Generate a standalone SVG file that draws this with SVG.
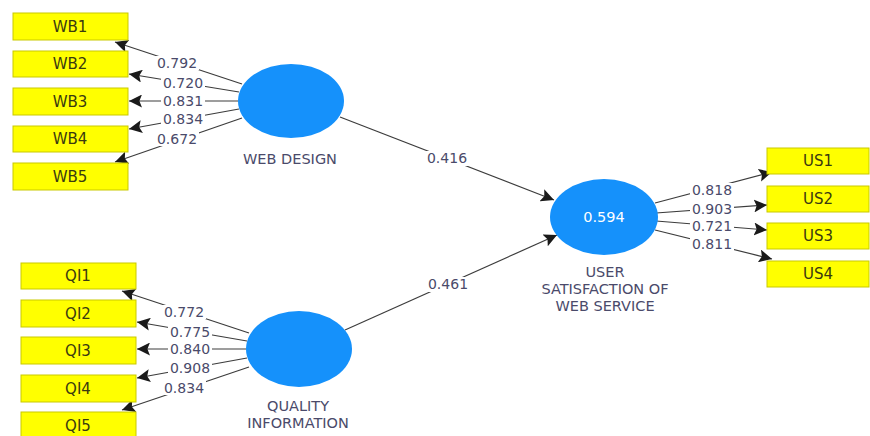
<svg xmlns="http://www.w3.org/2000/svg" width="870" height="436" viewBox="0 0 870 436">
  <style>
    .ind rect { fill: #ffff00; stroke: #c9c900; stroke-width: 1; }
    .ind text { font-family: "DejaVu Sans", "Liberation Sans", sans-serif; font-size: 15px; fill: #3a3a10; text-anchor: middle; dominant-baseline: central; }
    .lv ellipse { fill: #1591fb; }
    .lv text { font-family: "DejaVu Sans", "Liberation Sans", sans-serif; font-size: 14.5px; fill: #4a4a6a; text-anchor: middle; }
    .lv text.val { fill: #ffffff; dominant-baseline: central; }
    .edges line { stroke: #3c3c3c; stroke-width: 1.2; }
    .coef text { font-family: "DejaVu Sans", "Liberation Sans", sans-serif; font-size: 14px; fill: #4a4a6a; text-anchor: middle; dominant-baseline: central; }
    .coef rect { fill: #ffffff; }
  </style>
  <defs>
    <marker id="arrow" viewBox="0 0 10 10" refX="10" refY="5" markerWidth="13" markerHeight="13" markerUnits="userSpaceOnUse" orient="auto">
      <path d="M0,0 L10,5 L0,10 L2,5 z" fill="#1a1a1a"/>
    </marker>
  </defs>

  <!-- connectors -->
  <g class="edges">
    <!-- web design loadings -->
    <line x1="242" y1="84" x2="115" y2="42" marker-end="url(#arrow)"/>
    <line x1="239" y1="92" x2="129" y2="74" marker-end="url(#arrow)"/>
    <line x1="238" y1="101" x2="129" y2="101" marker-end="url(#arrow)"/>
    <line x1="239" y1="109" x2="129" y2="129" marker-end="url(#arrow)"/>
    <line x1="242" y1="118" x2="115" y2="162" marker-end="url(#arrow)"/>
    <!-- quality information loadings -->
    <line x1="249" y1="333" x2="122" y2="291" marker-end="url(#arrow)"/>
    <line x1="247" y1="341" x2="137" y2="322" marker-end="url(#arrow)"/>
    <line x1="246" y1="349" x2="137" y2="349" marker-end="url(#arrow)"/>
    <line x1="247" y1="358" x2="137" y2="378" marker-end="url(#arrow)"/>
    <line x1="249" y1="367" x2="122" y2="410" marker-end="url(#arrow)"/>
    <!-- user satisfaction loadings -->
    <line x1="655" y1="203" x2="772" y2="172" marker-end="url(#arrow)"/>
    <line x1="656" y1="213" x2="767" y2="205" marker-end="url(#arrow)"/>
    <line x1="656" y1="221" x2="767" y2="230" marker-end="url(#arrow)"/>
    <line x1="655" y1="230" x2="772" y2="259" marker-end="url(#arrow)"/>
    <!-- structural paths -->
    <line x1="340" y1="117" x2="554" y2="200" marker-end="url(#arrow)"/>
    <line x1="345" y1="330" x2="557" y2="235" marker-end="url(#arrow)"/>
  </g>

  <!-- coefficient labels -->
  <g class="coef">
    <rect x="155" y="56" width="44" height="14"/><text x="177" y="63">0.792</text>
    <rect x="161" y="76" width="44" height="14"/><text x="183" y="83">0.720</text>
    <rect x="161" y="94" width="44" height="14"/><text x="183" y="101">0.831</text>
    <rect x="161" y="112" width="44" height="14"/><text x="183" y="119">0.834</text>
    <rect x="155" y="132" width="44" height="14"/><text x="177" y="139">0.672</text>

    <rect x="162" y="305" width="44" height="14"/><text x="184" y="312">0.772</text>
    <rect x="168" y="325" width="44" height="14"/><text x="190" y="332">0.775</text>
    <rect x="168" y="342" width="44" height="14"/><text x="190" y="349">0.840</text>
    <rect x="168" y="361" width="44" height="14"/><text x="190" y="368">0.908</text>
    <rect x="162" y="381" width="44" height="14"/><text x="184" y="388">0.834</text>

    <rect x="690" y="183" width="44" height="14"/><text x="712" y="190">0.818</text>
    <rect x="690" y="202" width="44" height="14"/><text x="712" y="209">0.903</text>
    <rect x="690" y="219" width="44" height="14"/><text x="712" y="226">0.721</text>
    <rect x="690" y="237" width="44" height="14"/><text x="712" y="244">0.811</text>

    <rect x="423" y="151" width="48" height="15"/><text x="447" y="158">0.416</text>
    <rect x="424" y="277" width="48" height="15"/><text x="448" y="284">0.461</text>
  </g>

  <!-- indicators: web design -->
  <g id="WB1" class="ind"><rect x="13" y="13" width="115" height="27"/><text x="70" y="27">WB1</text></g>
  <g id="WB2" class="ind"><rect x="13" y="51" width="115" height="26"/><text x="70" y="64">WB2</text></g>
  <g id="WB3" class="ind"><rect x="13" y="88" width="115" height="27"/><text x="70" y="102">WB3</text></g>
  <g id="WB4" class="ind"><rect x="13" y="126" width="115" height="26"/><text x="70" y="139">WB4</text></g>
  <g id="WB5" class="ind"><rect x="13" y="163" width="115" height="27"/><text x="70" y="177">WB5</text></g>

  <!-- indicators: quality information -->
  <g id="QI1" class="ind"><rect x="21" y="263" width="115" height="26"/><text x="78" y="276">QI1</text></g>
  <g id="QI2" class="ind"><rect x="21" y="300" width="115" height="27"/><text x="78" y="314">QI2</text></g>
  <g id="QI3" class="ind"><rect x="21" y="337" width="115" height="27"/><text x="78" y="351">QI3</text></g>
  <g id="QI4" class="ind"><rect x="21" y="375" width="115" height="27"/><text x="78" y="389">QI4</text></g>
  <g id="QI5" class="ind"><rect x="21" y="412" width="115" height="26"/><text x="78" y="426">QI5</text></g>

  <!-- indicators: user satisfaction -->
  <g id="US1" class="ind"><rect x="767" y="148" width="102" height="26"/><text x="818" y="161">US1</text></g>
  <g id="US2" class="ind"><rect x="767" y="186" width="102" height="26"/><text x="818" y="199">US2</text></g>
  <g id="US3" class="ind"><rect x="767" y="223" width="102" height="26"/><text x="818" y="236">US3</text></g>
  <g id="US4" class="ind"><rect x="767" y="261" width="102" height="26"/><text x="818" y="274">US4</text></g>

  <!-- latent variables -->
  <g id="web-design" class="lv">
    <ellipse cx="291" cy="101" rx="53" ry="37"/>
    <text x="290" y="164">WEB DESIGN</text>
  </g>
  <g id="quality-information" class="lv">
    <ellipse cx="299" cy="349" rx="53" ry="38"/>
    <text x="298" y="411">QUALITY</text>
    <text x="298" y="428">INFORMATION</text>
  </g>
  <g id="user-satisfaction" class="lv">
    <ellipse cx="604" cy="217" rx="54" ry="38"/>
    <text class="val" x="604" y="217">0.594</text>
    <text x="605" y="277">USER</text>
    <text x="605" y="294">SATISFACTION OF</text>
    <text x="605" y="311">WEB SERVICE</text>
  </g>
</svg>
